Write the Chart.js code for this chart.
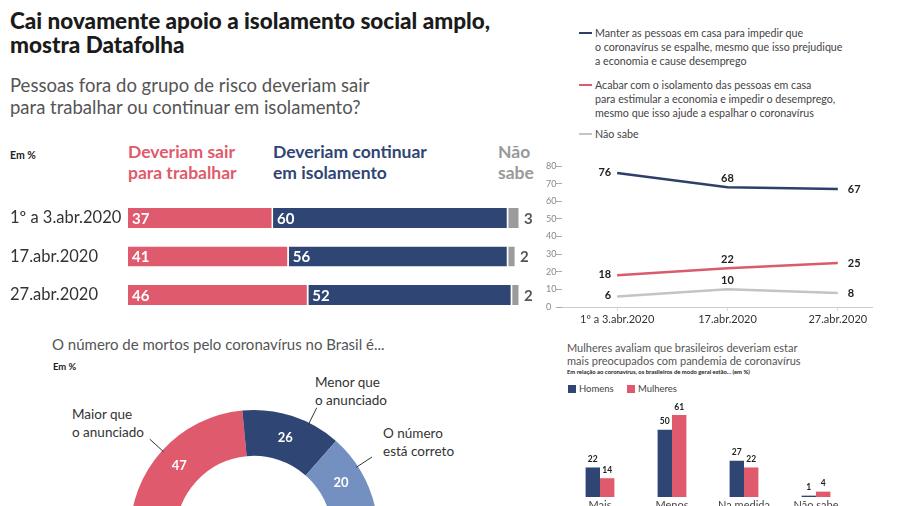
<!DOCTYPE html>
<html>
<head>
<meta charset="utf-8">
<script src="https://cdn.jsdelivr.net/npm/chart.js@4.4.1/dist/chart.umd.min.js"></script>
<style>
  html, body { margin: 0; padding: 0; }
  body { width: 900px; height: 506px; overflow: hidden; position: relative; background: #fff; font-family: Lato, "Open Sans", sans-serif; color: #333; }
  .abs { position: absolute; white-space: nowrap; }
  canvas { position: absolute; }
  #titulo { left: 10px; top: 9px; font-size: 22.5px; line-height: 24px; font-weight: 900; color: #1b1b1b; }
  #pergunta { left: 10px; top: 74px; font-size: 18.5px; line-height: 22px; color: #555; }
  .emp { font-size: 10.5px; font-weight: 700; color: #222; }
  .head { top: 141px; font-size: 17.5px; line-height: 21px; font-weight: 700; }
  .leg { left: 595px; font-size: 10.7px; line-height: 14px; color: #444; }
  .legline { position: absolute; left: 579px; width: 13px; height: 2px; }
  .dlab { font-size: 13.5px; line-height: 18px; color: #333; }
  .sq { display: inline-block; width: 8px; height: 8px; vertical-align: -1px; margin-right: 3px; }
</style>
</head>
<body>
<div class="abs" id="titulo">Cai novamente apoio a isolamento social amplo,<br>mostra Datafolha</div>
<div class="abs" id="pergunta">Pessoas fora do grupo de risco deveriam sair<br>para trabalhar ou continuar em isolamento?</div>

<div class="abs emp" style="left:10px;top:149px;">Em %</div>
<div class="abs head" style="left:128px;color:#df5a6c;">Deveriam sair<br>para trabalhar</div>
<div class="abs head" style="left:273px;color:#2f4675;">Deveriam continuar<br>em isolamento</div>
<div class="abs head" style="left:498px;color:#999;">Não<br>sabe</div>
<canvas id="stackChart" width="532" height="130" style="left:8px;top:190px;"></canvas>

<div class="legline" style="top:32px;background:#2e3f6a;"></div>
<div class="abs leg" style="top:26px;">Manter as pessoas em casa para impedir que<br>o coronavírus se espalhe, mesmo que isso prejudique<br>a economia e cause desemprego</div>
<div class="legline" style="top:84px;background:#d95b6c;"></div>
<div class="abs leg" style="top:78px;">Acabar com o isolamento das pessoas em casa<br>para estimular a economia e impedir o desemprego,<br>mesmo que isso ajude a espalhar o coronavírus</div>
<div class="legline" style="top:133px;background:#c4c4c4;"></div>
<div class="abs leg" style="top:127px;">Não sabe</div>
<canvas id="lineChart" width="360" height="180" style="left:540px;top:150px;"></canvas>

<div class="abs" style="left:52px;top:335px;font-size:15px;color:#555;">O número de mortos pelo coronavírus no Brasil é...</div>
<div class="abs emp" style="left:53px;top:361px;font-size:9.5px;">Em %</div>
<div class="abs dlab" style="left:72px;top:405px;">Maior que<br>o anunciado</div>
<div class="abs dlab" style="left:315px;top:373px;">Menor que<br>o anunciado</div>
<div class="abs dlab" style="left:383px;top:424px;">O número<br>está correto</div>
<canvas id="mortosChart" width="428" height="174" style="left:40px;top:360px;"></canvas>

<div class="abs" style="left:567px;top:342px;font-size:11px;line-height:12.5px;color:#555;">Mulheres avaliam que brasileiros deveriam estar<br>mais preocupados com pandemia de coronavírus</div>
<div class="abs" style="left:567px;top:368px;font-size:5.9px;font-weight:700;color:#222;">Em relação ao coronavírus, os brasileiros de modo geral estão... (em %)</div>
<div class="abs" style="left:568px;top:383px;font-size:9.5px;color:#444;"><span class="sq" style="background:#2f4675;"></span>Homens</div>
<div class="abs" style="left:627px;top:383px;font-size:9.5px;color:#444;"><span class="sq" style="background:#df5a6c;"></span>Mulheres</div>
<canvas id="preocChart" width="300" height="130" style="left:560px;top:395px;"></canvas>

<script>
// isolamento: sair para trabalhar x continuar em isolamento
const datas = ['1º a 3.abr.2020', '17.abr.2020', '27.abr.2020'];
const sairTrabalhar = [37, 41, 46];
const continuarIsolamento = [60, 56, 52];
const naoSabeIsolamento = [3, 2, 2];

// manter em casa x acabar com isolamento
const manterEmCasa = [76, 68, 67];
const acabarIsolamento = [18, 22, 25];
const naoSabeLinha = [6, 10, 8];

// numero de mortos
const mortosLabels = ['Maior que o anunciado', 'Menor que o anunciado', 'O número está correto', 'Não sabe'];
const mortosValores = [47, 26, 20, 7];

// preocupacao por sexo
const preocCategorias = ['Mais', 'Menos', 'Na medida', 'Não sabe'];
const homens = [22, 50, 27, 1];
const mulheres = [14, 61, 22, 4];

const PINK = '#df5a6c';
const NAVY = '#2f4675';
const GRAY = '#9b9b9b';
const FONT = 'Lato, "Open Sans", sans-serif';

const noPlugins = {legend: {display: false}, tooltip: {enabled: false}};

// sem folga extra dos rotulos nas pontas do eixo
const semFolga = s => { s.paddingTop = 0; s.paddingBottom = 0; };

// numeros dentro das barras empilhadas
const stackLabels = {
  id: 'stackLabels',
  afterDatasetsDraw(chart) {
    const ctx = chart.ctx;
    ctx.save();
    ctx.font = 'bold 15px ' + FONT;
    ctx.textBaseline = 'middle';
    ctx.textAlign = 'left';
    chart.data.datasets.forEach((ds, di) => {
      chart.getDatasetMeta(di).data.forEach((bar, i) => {
        const v = ds.data[i];
        if (di < 2) {
          ctx.fillStyle = '#fff';
          ctx.fillText(v, bar.base + 4, bar.y + 1);
        } else {
          ctx.fillStyle = '#555';
          ctx.fillText(v, bar.x + 4, bar.y + 1);
        }
      });
    });
    ctx.restore();
  }
};

new Chart(document.getElementById('stackChart'), {
  type: 'bar',
  data: {
    labels: datas,
    datasets: [
      {label: 'Deveriam sair para trabalhar', data: sairTrabalhar, backgroundColor: PINK},
      {label: 'Deveriam continuar em isolamento', data: continuarIsolamento, backgroundColor: NAVY},
      {label: 'Não sabe', data: naoSabeIsolamento, backgroundColor: GRAY}
    ]
  },
  options: {
    indexAxis: 'y',
    responsive: false,
    animation: false,
    layout: {padding: {top: 8.75, bottom: 5.75, left: 2, right: 20}},
    datasets: {bar: {categoryPercentage: 1, barPercentage: 0.52, borderColor: '#fff',
      borderWidth: {top: 0, bottom: 0, left: 0, right: 1.5}, borderSkipped: false}},
    plugins: noPlugins,
    scales: {
      x: {stacked: true, min: 0, max: 100, display: false},
      y: {
        stacked: true,
        afterFit: s => { s.width = 118; semFolga(s); },
        grid: {display: false},
        border: {display: false},
        ticks: {crossAlign: 'far', color: '#333', font: {family: FONT, size: 16.5}}
      }
    }
  },
  plugins: [stackLabels]
});

// rotulos dos pontos da linha
const lineLabels = {
  id: 'lineLabels',
  afterDatasetsDraw(chart) {
    const ctx = chart.ctx;
    ctx.save();
    ctx.font = 'bold 11px ' + FONT;
    ctx.fillStyle = '#222';
    chart.data.datasets.forEach((ds, di) => {
      chart.getDatasetMeta(di).data.forEach((pt, i) => {
        const v = ds.data[i].y;
        if (i === 0) {
          ctx.textAlign = 'right'; ctx.textBaseline = 'middle';
          ctx.fillText(v, pt.x - 6, pt.y - 1);
        } else if (i === 1) {
          ctx.textAlign = 'center'; ctx.textBaseline = 'bottom';
          ctx.fillText(v, pt.x, pt.y - 3);
        } else {
          ctx.textAlign = 'left'; ctx.textBaseline = 'middle';
          ctx.fillText(v, pt.x + 10, pt.y + 1);
        }
      });
    });
    ctx.restore();
  }
};

const pontos = arr => arr.map((v, i) => ({x: i, y: v}));

new Chart(document.getElementById('lineChart'), {
  type: 'line',
  data: {
    datasets: [
      {label: 'Manter as pessoas em casa', data: pontos(manterEmCasa), borderColor: '#2e3f6a'},
      {label: 'Acabar com o isolamento', data: pontos(acabarIsolamento), borderColor: '#d95b6c'},
      {label: 'Não sabe', data: pontos(naoSabeLinha), borderColor: '#c4c4c4'}
    ]
  },
  options: {
    responsive: false,
    animation: false,
    layout: {padding: {top: 16, right: 28, left: 6, bottom: 0}},
    datasets: {line: {borderWidth: 2.5, pointRadius: 0, tension: 0}},
    plugins: noPlugins,
    scales: {
      x: {
        type: 'linear', min: -0.5, max: 2.31,
        afterBuildTicks: s => { s.ticks = datas.map((d, i) => ({value: i})); },
        afterFit: s => { s.height = 23; },
        grid: {drawOnChartArea: false, tickLength: 4, color: '#ddd'},
        border: {color: '#ccc'},
        ticks: {callback: v => datas[v], autoSkip: false, maxRotation: 0, padding: 2, color: '#333', font: {family: FONT, size: 11}}
      },
      y: {
        min: 0, max: 80,
        afterFit: s => { s.width = 16; semFolga(s); },
        grid: {drawOnChartArea: false, tickLength: 6, color: '#aaa'},
        border: {display: false},
        ticks: {stepSize: 10, crossAlign: 'far', padding: 0, color: '#888', font: {family: FONT, size: 9}}
      }
    }
  },
  plugins: [lineLabels]
});

// numeros e linhas de chamada da rosca
const leaderFrac = [0.5, 0.68, 0.43];
const arcLabels = {
  id: 'arcLabels',
  afterDatasetsDraw(chart) {
    const ctx = chart.ctx;
    ctx.save();
    ctx.font = 'bold 13px ' + FONT;
    ctx.textAlign = 'center';
    ctx.textBaseline = 'middle';
    chart.getDatasetMeta(0).data.forEach((arc, i) => {
      const {x, y, startAngle, endAngle, innerRadius, outerRadius} =
        arc.getProps(['x', 'y', 'startAngle', 'endAngle', 'innerRadius', 'outerRadius'], true);
      const mid = (startAngle + endAngle) / 2;
      const r = (innerRadius + outerRadius) / 2;
      ctx.fillStyle = '#fff';
      ctx.fillText(mortosValores[i], x + Math.cos(mid) * r, y + Math.sin(mid) * r);
      if (i < leaderFrac.length) {
        const a = startAngle + (endAngle - startAngle) * leaderFrac[i];
        ctx.strokeStyle = '#333';
        ctx.lineWidth = 1;
        ctx.beginPath();
        ctx.moveTo(x + Math.cos(a) * (outerRadius - 2), y + Math.sin(a) * (outerRadius - 2));
        ctx.lineTo(x + Math.cos(a) * (outerRadius + 17), y + Math.sin(a) * (outerRadius + 17));
        ctx.stroke();
      }
    });
    ctx.restore();
  }
};

new Chart(document.getElementById('mortosChart'), {
  type: 'doughnut',
  data: {
    labels: mortosLabels,
    datasets: [{data: mortosValores, backgroundColor: [PINK, NAVY, '#7390c0', '#b5b5b5'], borderWidth: 0, hoverOffset: 0}]
  },
  options: {
    responsive: false,
    animation: false,
    rotation: -90,
    circumference: 180,
    cutout: '63%',
    layout: {padding: {left: 90, right: 90, top: 50, bottom: 0}},
    plugins: noPlugins
  },
  plugins: [arcLabels]
});

// valores acima das barras agrupadas
const topLabels = {
  id: 'topLabels',
  afterDatasetsDraw(chart) {
    const ctx = chart.ctx;
    ctx.save();
    ctx.font = 'bold 8.5px ' + FONT;
    ctx.fillStyle = '#222';
    ctx.textAlign = 'center';
    ctx.textBaseline = 'bottom';
    chart.data.datasets.forEach((ds, di) => {
      chart.getDatasetMeta(di).data.forEach((bar, i) => {
        ctx.fillText(ds.data[i], bar.x, bar.y - 4);
      });
    });
    ctx.restore();
  }
};

new Chart(document.getElementById('preocChart'), {
  type: 'bar',
  data: {
    labels: preocCategorias,
    datasets: [
      {label: 'Homens', data: homens, backgroundColor: NAVY},
      {label: 'Mulheres', data: mulheres, backgroundColor: PINK}
    ]
  },
  options: {
    responsive: false,
    animation: false,
    layout: {padding: {left: 4, right: 8, top: 8, bottom: 0}},
    datasets: {bar: {categoryPercentage: 0.4, barPercentage: 1}},
    plugins: noPlugins,
    scales: {
      x: {
        afterFit: s => { s.height = 28; },
        grid: {display: false, drawTicks: false},
        border: {display: false},
        ticks: {padding: 2, color: '#444', font: {family: FONT, size: 11}}
      },
      y: {display: false, min: 0, max: 70}
    }
  },
  plugins: [topLabels]
});
</script>
</body>
</html>
